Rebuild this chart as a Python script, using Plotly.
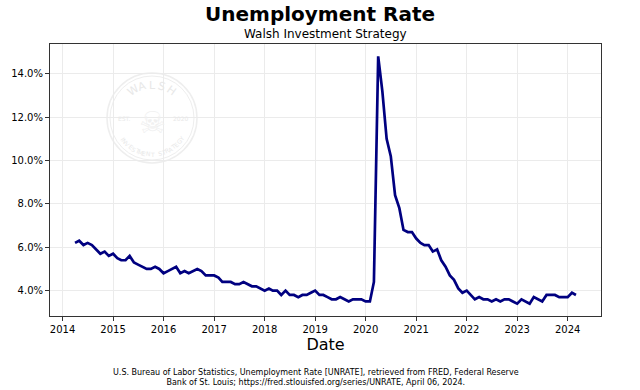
import math
import plotly.graph_objects as go

# Monthly unemployment rate (UNRATE), Apr 2014 - Mar 2024
start_year = 2014
start_month = 4
rates = [
    6.2, 6.3, 6.1, 6.2, 6.1, 5.9, 5.7, 5.8, 5.6,            # 2014 Apr-Dec
    5.7, 5.5, 5.4, 5.4, 5.6, 5.3, 5.2, 5.1, 5.0, 5.0, 5.1, 5.0,  # 2015
    4.8, 4.9, 5.0, 5.1, 4.8, 4.9, 4.8, 4.9, 5.0, 4.9, 4.7, 4.7,  # 2016
    4.7, 4.6, 4.4, 4.4, 4.4, 4.3, 4.3, 4.4, 4.3, 4.2, 4.2, 4.1,  # 2017
    4.0, 4.1, 4.0, 4.0, 3.8, 4.0, 3.8, 3.8, 3.7, 3.8, 3.8, 3.9,  # 2018
    4.0, 3.8, 3.8, 3.7, 3.6, 3.6, 3.7, 3.6, 3.5, 3.6, 3.6, 3.6,  # 2019
    3.5, 3.5, 4.4, 14.8, 13.2, 11.0, 10.2, 8.4, 7.8, 6.8, 6.7, 6.7,  # 2020
    6.4, 6.2, 6.1, 6.1, 5.8, 5.9, 5.4, 5.1, 4.7, 4.5, 4.1, 3.9,  # 2021
    4.0, 3.8, 3.6, 3.7, 3.6, 3.6, 3.5, 3.6, 3.5, 3.6, 3.6, 3.5,  # 2022
    3.4, 3.6, 3.5, 3.4, 3.7, 3.6, 3.5, 3.8, 3.8, 3.8, 3.7, 3.7,  # 2023
    3.7, 3.9, 3.8,                                           # 2024 Jan-Mar
]
dates = []
y, m = start_year, start_month
for _ in rates:
    dates.append(f"{y:04d}-{m:02d}-01")
    m += 1
    if m > 12:
        m = 1
        y += 1

y_ticks = [4, 6, 8, 10, 12, 14]
y_tick_labels = ["4.0%", "6.0%", "8.0%", "10.0%", "12.0%", "14.0%"]

title_text = "Unemployment Rate"
subtitle_text = "Walsh Investment Strategy"
x_label = "Date"
source_text = ("U.S. Bureau of Labor Statistics, Unemployment Rate [UNRATE], retrieved from FRED, Federal Reserve<br>"
               "Bank of St. Louis; https://fred.stlouisfed.org/series/UNRATE, April 06, 2024.")

FONT = "DejaVu Sans"
W, H = 640, 390
L, R, T, B = 50, 39, 44, 74
PW, PH = W - L - R, H - T - B


def px2paper(px, py):
    return (px - L) / PW, (H - B - py) / PH


def add_text(px, py, text, size, color="black", angle=0, align="center"):
    xp, yp = px2paper(px, py)
    fig.add_annotation(x=xp, y=yp, xref="paper", yref="paper", text=text,
                       showarrow=False, textangle=angle, align=align,
                       xanchor="center", yanchor="middle",
                       font=dict(family=FONT, size=size, color=color))


fig = go.Figure()
fig.add_trace(go.Scatter(x=dates, y=rates, mode="lines",
                         line=dict(color="#000080", width=2.7),
                         showlegend=False, hoverinfo="x+y"))

# faint watermark logo
wm_col = "#eeeeee"
cx, cy, rad = 152, 118, 45
x0, y0 = px2paper(cx - rad, cy + rad)
x1, y1 = px2paper(cx + rad, cy - rad)
fig.add_shape(type="circle", xref="paper", yref="paper", x0=x0, y0=y0, x1=x1, y1=y1,
              line=dict(color=wm_col, width=1.5), layer="below")
x0, y0 = px2paper(cx - rad + 3, cy + rad - 3)
x1, y1 = px2paper(cx + rad - 3, cy - rad + 3)
fig.add_shape(type="circle", xref="paper", yref="paper", x0=x0, y0=y0, x1=x1, y1=y1,
              line=dict(color=wm_col, width=1), layer="below")


def arc_text(txt, r, a_start, a_end, size, top=True):
    n = len(txt)
    for i, ch in enumerate(txt):
        if ch == " ":
            continue
        a = a_start + (a_end - a_start) * (i / max(n - 1, 1))
        ar = math.radians(a)
        px = cx + r * math.cos(ar)
        py = cy - r * math.sin(ar)
        rot = (90 - a) if top else (270 - a)
        add_text(px, py, ch, size, color="#e8e8e8", angle=rot)


arc_text("WALSH", 33, 125, 55, 11, top=True)
arc_text("INVESTMENT STRATEGY", 36, 215, 325, 6, top=False)
add_text(124, cy, "EST.", 6, color="#e8e8e8")
add_text(180, cy, "2020", 6, color="#e8e8e8")
add_text(cx, cy + 4, "☠", 30, color="#f0f0f0")

# titles and source
add_text(320, 14, f"<b>{title_text}</b>", 20)
add_text(325.5, 34, subtitle_text, 12)
add_text(316, 377, source_text, 8)

fig.update_xaxes(
    type="date", range=["2013-10-02", "2024-08-29"],
    tick0="2014-01-01", dtick="M12", tickformat="%Y",
    showgrid=True, gridcolor="#ebebeb", gridwidth=1,
    showline=True, linecolor="#333333", linewidth=1, mirror=True,
    ticks="outside", ticklen=4, tickcolor="#333333",
    tickfont=dict(family=FONT, size=10, color="black"),
    title=dict(text=x_label, font=dict(family=FONT, size=16, color="black"), standoff=4),
    zeroline=False, automargin=False,
)
fig.update_yaxes(
    range=[2.83, 15.37], tickvals=y_ticks, ticktext=y_tick_labels,
    showgrid=True, gridcolor="#ebebeb", gridwidth=1,
    showline=True, linecolor="#333333", linewidth=1, mirror=True,
    ticks="outside", ticklen=4, tickcolor="#333333",
    tickfont=dict(family=FONT, size=10, color="black"),
    zeroline=False, automargin=False,
)
fig.update_layout(
    width=W, height=H,
    margin=dict(l=L, r=R, t=T, b=B, pad=0),
    paper_bgcolor="white", plot_bgcolor="white",
    font=dict(family=FONT),
)
fig.write_html("out.html", config={"displayModeBar": False},
               post_script="document.body.style.margin='0';document.body.style.overflow='hidden';")
